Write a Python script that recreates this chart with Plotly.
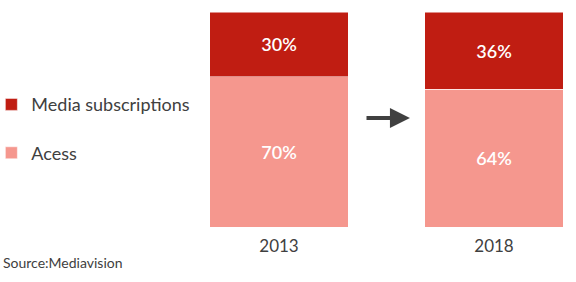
import plotly.graph_objects as go

years = ["2013", "2018"]
acess = [70, 64]
media = [30, 36]
series_names = ["Acess", "Media subscriptions"]
colors = ["#F5978E", "#C01D12"]
legend_ranks = [2, 1]

FONT = "Lato"
GRAY = "#404040"

fig = go.Figure()
for name, vals, col, rk in zip(series_names, [acess, media], colors, legend_ranks):
    fig.add_trace(go.Bar(
        x=years, y=vals, name=name, legendgroup=name, legendrank=rk,
        marker=dict(color=col, line=dict(color="rgba(255,255,255,0.5)", width=1)),
        text=[f"{v}%" for v in vals], textposition="inside", insidetextanchor="middle",
        textfont=dict(color="white", size=18, family=FONT, weight=600),
        width=0.642, hoverinfo="skip",
    ))

fig.update_layout(
    barmode="stack",
    width=576, height=282,
    margin=dict(l=0, r=0, t=12, b=55, autoexpand=False),
    paper_bgcolor="white", plot_bgcolor="white",
    font=dict(family=FONT, color=GRAY),
    showlegend=True,
    legend=dict(x=-0.015, y=0.655, xanchor="left", yanchor="top",
                traceorder="grouped", tracegroupgap=22,
                font=dict(size=18, color=GRAY, family=FONT),
                bgcolor="rgba(0,0,0,0)", itemwidth=30),
    xaxis=dict(range=[-1.2977, 1.3814], showgrid=False, zeroline=False, showline=False,
               ticks="outside", ticklen=4, tickcolor="white",
               tickfont=dict(size=17, color=GRAY, family=FONT)),
    yaxis=dict(range=[0, 100], visible=False),
    uniformtext=dict(mode="show", minsize=10),
)

fig.add_annotation(x=0.609, y=50.7, ax=0.40, ay=50.7, xref="x", yref="y", axref="x", ayref="y",
                   text="", showarrow=True, arrowhead=2, arrowwidth=4, arrowsize=1.0, arrowcolor=GRAY)

fig.add_annotation(x=0.0, y=-0.167, xref="paper", yref="paper", xanchor="left", yanchor="middle",
                   text="Source:Mediavision", showarrow=False,
                   font=dict(size=14, color=GRAY, family=FONT), xshift=1)

fig.write_html("out.html")
